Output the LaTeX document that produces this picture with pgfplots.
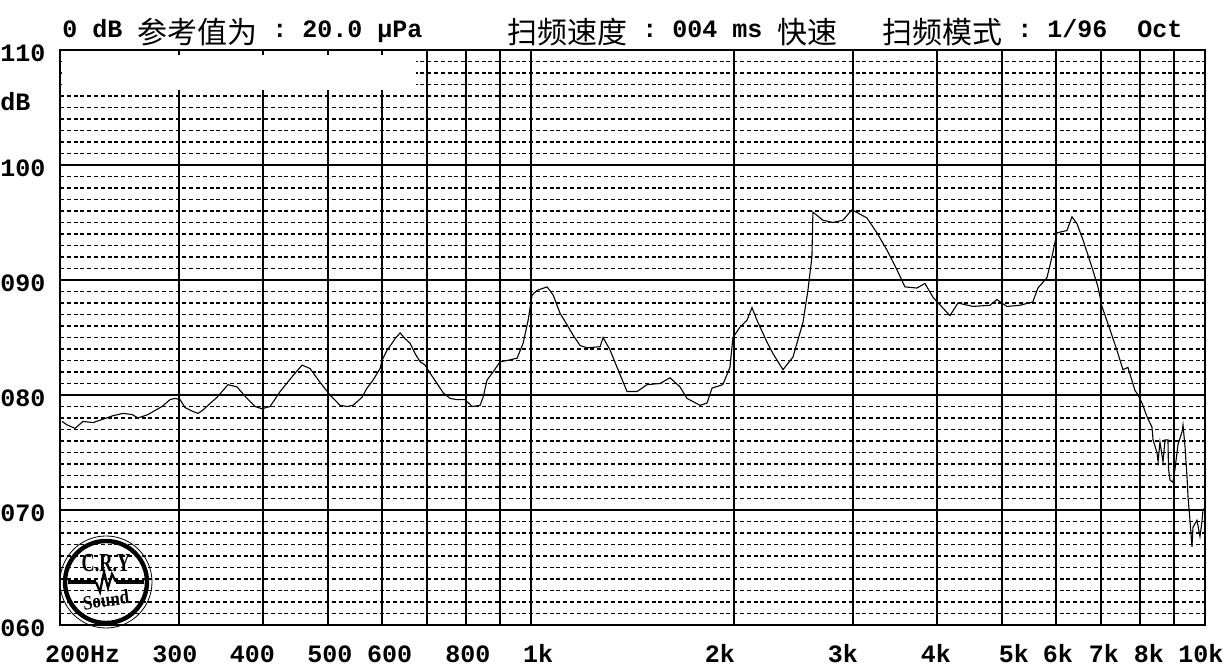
\documentclass[border=0pt]{standalone}
\usepackage{fontspec}
\usepackage{pgfplots}
\pgfplotsset{compat=1.18}
\setmainfont{Liberation Mono}
\newfontfamily\cjk{Noto Sans CJK SC}
\newfontfamily\logofont{Liberation Serif}
\newcommand\lab{\fontsize{12.5pt}{15pt}\selectfont\bfseries}
\newcommand\cj[1]{\raisebox{-3pt}{\cjk\mdseries\fontsize{15pt}{18pt}\selectfont #1}}
\pgfplotstableread{
f db
201.4 77.7
204.8 77.4
210.5 77.1
216.3 77.7
223.9 77.6
231.7 77.9
239.7 78.2
248.0 78.4
255.8 78.3
261.1 78.0
270.1 78.3
283.4 79.0
291.3 79.6
296.3 79.7
301.4 79.6
306.6 78.9
314.0 78.6
320.5 78.4
326.0 78.7
331.6 79.1
342.0 79.8
355.1 80.9
366.2 80.7
378.9 79.7
389.4 79.0
398.7 78.8
409.9 79.0
424.2 80.3
443.5 81.7
457.3 82.6
469.9 82.3
486.2 81.1
503.1 80.0
520.6 79.1
533.3 79.0
544.2 79.1
561.2 79.8
570.9 80.6
582.8 81.3
597.0 82.3
600.8 83.0
611.4 83.9
621.9 84.5
628.3 84.9
639.2 85.4
650.2 84.9
661.4 84.5
672.8 83.6
684.4 82.9
696.2 82.6
708.1 81.9
725.3 81.0
740.4 80.2
758.2 79.7
776.4 79.6
798.0 79.6
817.4 79.0
840.0 79.1
848.7 79.8
860.3 81.3
878.2 82.0
899.5 82.9
921.3 83.0
953.3 83.2
973.1 84.5
989.9 86.5
1003.4 88.7
1020.7 89.1
1056.2 89.4
1078.1 88.7
1104.1 87.1
1130.9 86.1
1154.3 85.2
1182.3 84.3
1210.9 84.1
1265.9 84.2
1278.8 85.0
1309.8 83.9
1341.5 82.4
1388.0 80.3
1436.3 80.3
1486.2 80.9
1553.7 81.0
1607.6 81.5
1663.5 80.7
1703.8 79.7
1781.2 79.1
1824.1 79.3
1855.6 80.6
1925.6 80.9
1972.8 82.4
1993.1 85.0
2041.5 85.9
2091.0 86.5
2127.0 87.6
2163.6 86.5
2238.8 84.6
2285.1 83.6
2364.5 82.2
2446.5 83.3
2531.5 86.3
2575.0 89.1
2610.3 92.0
2619.3 95.9
2710.1 95.2
2804.5 95.0
2902.0 95.2
2993.0 96.1
3150.0 95.4
3259.8 94.1
3373.0 92.6
3490.0 90.9
3586.8 89.4
3737.0 89.3
3841.0 89.7
3947.7 88.5
4183.0 86.9
4298.6 88.0
4524.7 87.7
4795.0 87.8
4911.0 88.3
5081.3 87.7
5312.4 87.8
5553.7 88.1
5649.1 89.3
5827.5 90.2
5927.6 92.0
6029.5 94.1
6239.5 94.3
6346.8 95.5
6456.0 94.9
6589.6 93.5
6796.0 91.1
6936.7 89.4
7031.6 87.7
7226.9 85.7
7400.3 83.9
7555.4 82.2
7685.3 82.4
7871.6 80.4
7954 80.0
8063 79.3
8203 78.1
8342 77.2
8373 76.1
8486 75.0
8517 74.2
8573 75.9
8663 74.2
8722 76.1
8811 76.1
8826 73.6
8873 72.6
8962 72.4
9026 73.6
9118 75.7
9244 76.8
9275 77.4
9339 75.5
9402 72.9
9436 71.1
9499 69.1
9564 66.8
9596 68.5
9728 69.1
9828 67.7
9897 69.0
9930 70.0
9995 70.2
9995 72.6
}\curve
\begin{document}
\begin{tikzpicture}
\useasboundingbox (-30pt,-23.5pt) rectangle (585pt,312.5pt);
\begin{axis}[
  name=ax, at={(0,0)}, anchor=south west,
  scale only axis, width=572.5pt, height=287.5pt,
  xmode=log, xmin=200, xmax=10000, ymin=60, ymax=110,
  xtick={200,300,400,500,600,700,800,900,1000,2000,3000,4000,5000,6000,7000,8000,9000,10000},
  xticklabels={},
  minor xtick={},
  ytick={60,70,...,110},
  yticklabels={060,070,080,090,100,110},
  minor y tick num=9,
  xmajorgrids, ymajorgrids, yminorgrids,
  major grid style={black, line width=1pt},
  minor grid style={black, line width=0.85pt, dash pattern=on 2pt off 1.4pt},
  major tick length=0pt, minor tick length=0pt,
  axis line style={black, line width=1pt},
  tick label style={font=\lab},
  yticklabel style={anchor=west, inner sep=0pt, xshift=-30pt, yshift=-1.5pt},
  extra x ticks={216,296,386,503,617,806,1024,1906,2902,3988,5206,6050,7080,8256,9860},
  extra x tick labels={200Hz,300,400,500,600,800,1k,2k,3k,4k,5k,6k,7k,8k,10k},
  extra x tick style={grid=none, xticklabel style={anchor=base, inner sep=0pt, yshift=-19pt}},
  clip=false,
]
\fill[white] (axis cs:201,106.55) rectangle (axis cs:675,109.55);
\addplot[black, line width=0.55pt] table[x=f, y=db] {\curve};
\end{axis}
% labels
\node[anchor=west, inner sep=0pt, font=\lab] at (-30pt,261.5pt) {dB};
\node[anchor=base west, inner sep=0pt, font=\lab] at (1pt,293.5pt)
  {0\ dB\ \cj{参考值为}\ :\ 20.0\ μPa};
\node[anchor=base west, inner sep=0pt, font=\lab] at (223.5pt,293.5pt)
  {\cj{扫频速度}\ :\ 004\ ms\ \cj{快速}\ \ \ \cj{扫频模式}\ :\ 1/96\ \ Oct};
% logo
\begin{scope}[shift={(23pt,21.5pt)}]
\draw[line width=2.2pt] (0,0) circle (20.5pt);
\draw[line width=0.4pt] (0,0) circle (23pt);
\draw[line width=1.6pt] (-19pt,0) -- (-5pt,0);
\draw[line width=1.6pt] (5pt,0) -- (19pt,0);
\draw[line width=1.1pt] (-5pt,0) -- (-3pt,-5pt) -- (-1pt,5pt) -- (1pt,-3pt) -- (3pt,4pt) -- (5pt,0);
\node[inner sep=0pt, font=\logofont\bfseries\fontsize{13pt}{13pt}\selectfont, xscale=0.7] at (0,9.5pt) {C.R.Y};
\node[inner sep=0pt, font=\logofont\bfseries\fontsize{10pt}{10pt}\selectfont, xscale=0.85, rotate=8] at (0,-9pt) {Sound};
\end{scope}
\end{tikzpicture}
\end{document}
